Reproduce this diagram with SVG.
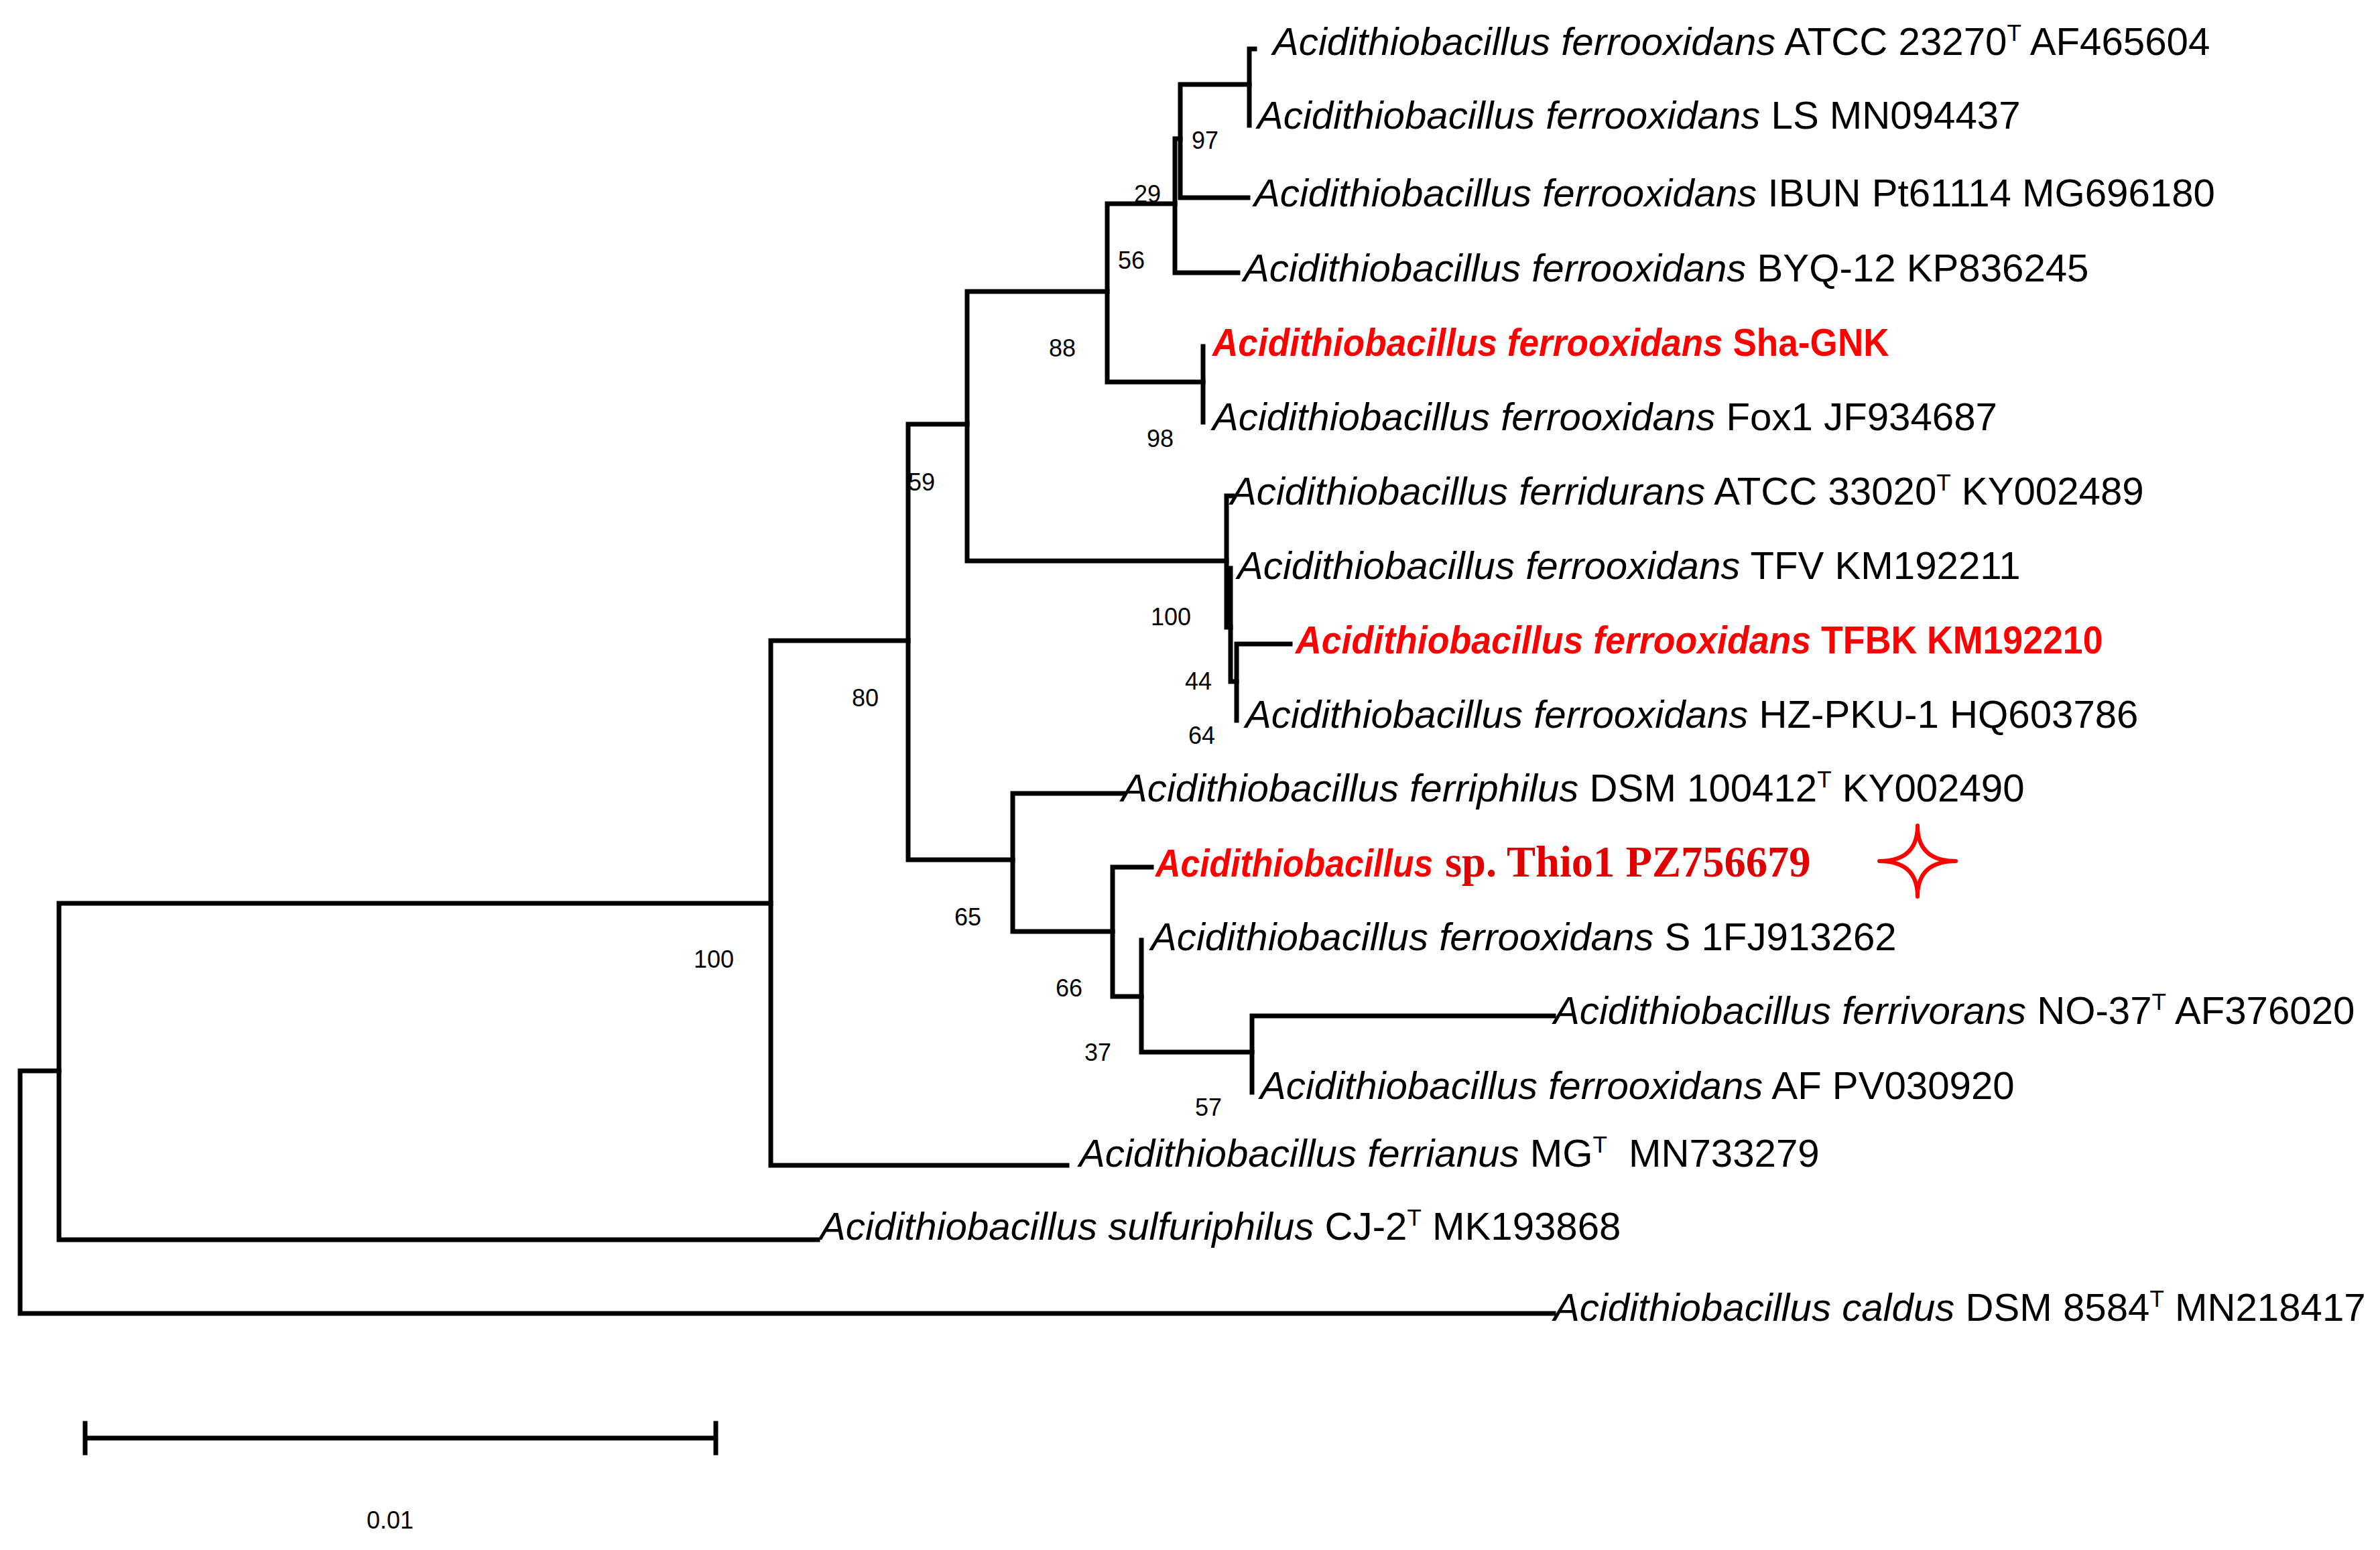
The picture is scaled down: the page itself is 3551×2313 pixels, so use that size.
<svg xmlns="http://www.w3.org/2000/svg" width="3551" height="2313" viewBox="0 0 3551 2313">
<style>
.br{fill:none;stroke:#000;stroke-width:7;stroke-linecap:square}
.lf{font-family:"Liberation Sans",Arial,sans-serif;font-size:58.2px;fill:#000}
.it{font-style:italic}
.sup{font-size:35px}
.red{fill:#f00;font-weight:bold}
.bs{font-family:"Liberation Sans",Arial,sans-serif;font-size:36px;fill:#000}
</style>
<rect width="3551" height="2313" fill="#fff"/>
<g id="connectors">
<path class="br" d="M30,1598 V1960 M30,1598 H88 M30,1960 H2318"/>
<path class="br" d="M88,1348 V1850 M88,1348 H1150 M88,1850 H1220"/>
<path class="br" d="M1150,956 V1739 M1150,956 H1355 M1150,1739 H1592"/>
<path class="br" d="M1355,633 V1283 M1355,633 H1443 M1355,1283 H1511"/>
<path class="br" d="M1443,435 V837 M1443,435 H1652 M1443,837 H1830"/>
<path class="br" d="M1652,304 V570 M1652,304 H1753 M1652,570 H1795"/>
<path class="br" d="M1753,207 V407 M1753,207 H1761 M1753,407 H1847"/>
<path class="br" d="M1761,126 V295 M1761,126 H1864 M1761,295 H1862"/>
<path class="br" d="M1864,73 V187 M1864,73 H1872"/>
<path class="br" d="M1795,517 V630"/>
<path class="br" d="M1830,740 V936 M1830,740 H1839 M1830,936 H1836"/>
<path class="br" d="M1836,848 V1017 M1836,1017 H1845"/>
<path class="br" d="M1845,961 V1075 M1845,961 H1925"/>
<path class="br" d="M1511,1184 V1390 M1511,1184 H1677 M1511,1390 H1660"/>
<path class="br" d="M1660,1294 V1487 M1660,1294 H1718 M1660,1487 H1703"/>
<path class="br" d="M1703,1403 V1570 M1703,1570 H1868"/>
<path class="br" d="M1868,1516 V1630 M1868,1516 H2318"/>
</g>
<g id="leaf-atcc23270"><text class="lf" x="1899" y="82"><tspan class="it">Acidithiobacillus ferrooxidans</tspan> ATCC 23270<tspan class="sup" dy="-21">T</tspan><tspan dy="21"> AF465604</tspan></text></g>
<g id="leaf-ls"><text class="lf" x="1876" y="192"><tspan class="it">Acidithiobacillus ferrooxidans</tspan> LS MN094437</text></g>
<g id="leaf-ibun"><text class="lf" x="1871" y="308"><tspan class="it">Acidithiobacillus ferrooxidans</tspan> IBUN Pt61114 MG696180</text></g>
<g id="leaf-byq12"><text class="lf" x="1855" y="420"><tspan class="it">Acidithiobacillus ferrooxidans</tspan> BYQ-12 KP836245</text></g>
<g id="leaf-shagnk"><text class="lf red" transform="translate(1809,531) scale(0.913,1)" x="0" y="0"><tspan class="it">Acidithiobacillus ferrooxidans</tspan> Sha-GNK</text></g>
<g id="leaf-fox1"><text class="lf" x="1809" y="642"><tspan class="it">Acidithiobacillus ferrooxidans</tspan> Fox1 JF934687</text></g>
<g id="leaf-ferridurans"><text class="lf" x="1836" y="753"><tspan class="it">Acidithiobacillus ferridurans</tspan> ATCC 33020<tspan class="sup" dy="-21">T</tspan><tspan dy="21"> KY002489</tspan></text></g>
<g id="leaf-tfv"><text class="lf" x="1846" y="864"><tspan class="it">Acidithiobacillus ferrooxidans</tspan> TFV KM192211</text></g>
<g id="leaf-tfbk"><text class="lf red" transform="translate(1933,975) scale(0.922,1)" x="0" y="0"><tspan class="it">Acidithiobacillus ferrooxidans</tspan> TFBK KM192210</text></g>
<g id="leaf-hzpku1"><text class="lf" x="1858" y="1086"><tspan class="it">Acidithiobacillus ferrooxidans</tspan> HZ-PKU-1 HQ603786</text></g>
<g id="leaf-ferriphilus"><text class="lf" x="1673" y="1196"><tspan class="it">Acidithiobacillus ferriphilus</tspan> DSM 100412<tspan class="sup" dy="-21">T</tspan><tspan dy="21"> KY002490</tspan></text></g>
<g id="leaf-thio1">
<text class="lf red it" transform="translate(1724,1308) scale(0.89,1)" x="0" y="0">Acidithiobacillus</text>
<text x="2156" y="1308" font-family="'Liberation Serif','Times New Roman',serif" font-size="64.5" font-weight="bold" fill="#e00000">sp. Thio1 PZ756679</text>
<path d="M2861,1232 Q2861,1285 2918,1285 Q2861,1285 2861,1338 Q2861,1285 2804,1285 Q2861,1285 2861,1232 Z" fill="none" stroke="#f00" stroke-width="6" stroke-linejoin="round"/>
</g>
<g id="leaf-s1"><text class="lf" x="1717" y="1418"><tspan class="it">Acidithiobacillus ferrooxidans</tspan> S 1FJ913262</text></g>
<g id="leaf-ferrivorans"><text class="lf" x="2318" y="1528"><tspan class="it">Acidithiobacillus ferrivorans</tspan> NO-37<tspan class="sup" dy="-21">T</tspan><tspan dy="21"> AF376020</tspan></text></g>
<g id="leaf-af"><text class="lf" x="1880" y="1640"><tspan class="it">Acidithiobacillus ferrooxidans</tspan> AF PV030920</text></g>
<g id="leaf-ferrianus"><text class="lf" x="1610" y="1741"><tspan class="it">Acidithiobacillus ferrianus</tspan> MG<tspan class="sup" dy="-21">T</tspan><tspan dy="21" dx="16"> MN733279</tspan></text></g>
<g id="leaf-sulfuriphilus"><text class="lf" x="1223" y="1850"><tspan class="it">Acidithiobacillus sulfuriphilus</tspan> CJ-2<tspan class="sup" dy="-21">T</tspan><tspan dy="21"> MK193868</tspan></text></g>
<g id="leaf-caldus"><text class="lf" x="2318" y="1971"><tspan class="it">Acidithiobacillus caldus</tspan> DSM 8584<tspan class="sup" dy="-21">T</tspan><tspan dy="21"> MN218417</tspan></text></g>
<g id="bootstrap">
<text class="bs" x="1778" y="222">97</text>
<text class="bs" x="1692" y="302">29</text>
<text class="bs" x="1668" y="401">56</text>
<text class="bs" x="1565" y="532">88</text>
<text class="bs" x="1711" y="667">98</text>
<text class="bs" x="1355" y="732">59</text>
<text class="bs" x="1717" y="933">100</text>
<text class="bs" x="1768" y="1029">44</text>
<text class="bs" x="1773" y="1110">64</text>
<text class="bs" x="1271" y="1054">80</text>
<text class="bs" x="1424" y="1381">65</text>
<text class="bs" x="1575" y="1487">66</text>
<text class="bs" x="1618" y="1583">37</text>
<text class="bs" x="1783" y="1665">57</text>
<text class="bs" x="1035" y="1444">100</text>
</g>
<g id="scale-bar">
<path class="br" d="M127,2146 H1068 M127,2124 V2168 M1068,2124 V2168" stroke-linecap="butt"/>
<text class="bs" x="547" y="2281">0.01</text>
</g>
</svg>
